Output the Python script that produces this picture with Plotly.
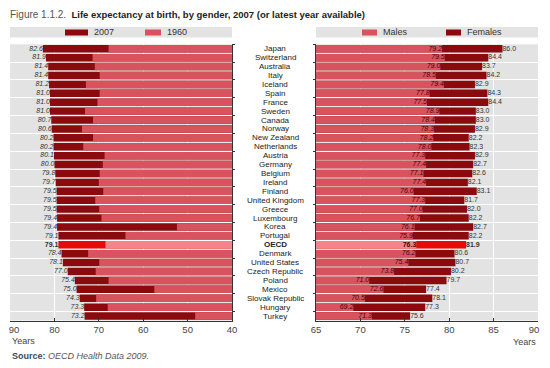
import plotly.graph_objects as go

countries = ["Japan", "Switzerland", "Australia", "Italy", "Iceland", "Spain", "France",
             "Sweden", "Canada", "Norway", "New Zealand", "Netherlands", "Austria", "Germany",
             "Belgium", "Ireland", "Finland", "United Kingdom", "Greece", "Luxembourg", "Korea",
             "Portugal", "OECD", "Denmark", "United States", "Czech Republic", "Poland",
             "Mexico", "Slovak Republic", "Hungary", "Turkey"]
life_2007 = [82.6, 81.9, 81.4, 81.4, 81.2, 81.0, 81.0, 81.0, 80.7, 80.6, 80.2, 80.2, 80.1,
             80.0, 79.8, 79.7, 79.5, 79.5, 79.5, 79.4, 79.4, 79.1, 79.1, 78.4, 78.1, 77.0,
             75.4, 75.0, 74.3, 73.3, 73.2]
life_1960 = [67.8, 71.4, 70.9, 69.8, 72.9, 69.8, 70.3, 73.1, 71.3, 73.8, 71.3, 73.5, 68.7,
             69.1, 69.8, 70.0, 69.0, 70.8, 69.9, 69.4, 52.4, 64.0, 68.5, 72.4, 69.9, 70.7,
             67.8, 57.5, 70.6, 68.0, 48.3]
males = [79.2, 79.5, 79.0, 78.5, 79.4, 77.8, 77.5, 78.9, 78.4, 78.3, 78.2, 78.0, 77.3, 77.4,
         77.1, 77.4, 76.0, 77.3, 77.0, 76.7, 76.1, 75.9, 76.3, 76.2, 75.4, 73.8, 71.0, 72.6,
         70.5, 69.2, 71.3]
females = [86.0, 84.4, 83.7, 84.2, 82.9, 84.3, 84.4, 83.0, 83.0, 82.9, 82.2, 82.3, 82.9, 82.7,
           82.6, 82.1, 83.1, 81.7, 82.0, 82.2, 82.7, 82.2, 81.9, 80.6, 80.7, 80.2, 79.7, 77.4,
           78.1, 77.3, 75.6]
left_ticks = [90, 80, 70, 60, 50, 40]
left_tick_text = ["90", "80&nbsp;&nbsp;&nbsp;", "70&nbsp;&nbsp;&nbsp;", "60&nbsp;&nbsp;&nbsp;",
                  "50&nbsp;&nbsp;&nbsp;", "40&nbsp;&nbsp;&nbsp;"]
right_ticks = [65, 70, 75, 80, 85, 90]
right_tick_text = ["65", "70", "75", "80", "85", "90&nbsp;&nbsp;&nbsp;"]
highlight = "OECD"

DARK = "#8a0a0e"
LIGHT = "#d9535e"
DARK_HL = "#e60a0a"
LIGHT_HL = "#f2858b"
GRAY = "#e3e3e3"
FONT = "Liberation Sans Narrow, Liberation Sans, Arial, sans-serif"
FONT_R = "Liberation Sans, Arial, sans-serif"

dark_cols = [DARK_HL if c == highlight else DARK for c in countries]
light_cols = [LIGHT_HL if c == highlight else LIGHT for c in countries]


def fmt(v, c, italic=True):
    s = f"{v:.1f}"
    if c == highlight:
        s = f"<b>{s}</b>"
    elif italic:
        s = f"<i>{s}</i>"
    return s


fig = go.Figure()
# Left panel
fig.add_trace(go.Bar(y=countries, x=life_2007, orientation="h", marker=dict(color=dark_cols, line_width=0),
                     xaxis="x", yaxis="y", name="2007"))
fig.add_trace(go.Bar(y=countries, x=life_1960, orientation="h", marker=dict(color=light_cols, line_width=0),
                     xaxis="x", yaxis="y", name="1960"))
# Right panel
fig.add_trace(go.Bar(y=countries, x=females, orientation="h", marker=dict(color=dark_cols, line_width=0),
                     xaxis="x2", yaxis="y2", name="Females"))
fig.add_trace(go.Bar(y=countries, x=males, orientation="h", marker=dict(color=light_cols, line_width=0),
                     xaxis="x2", yaxis="y2", name="Males"))

# Labels
fig.add_trace(go.Scatter(y=countries, x=life_2007, mode="text", xaxis="x", yaxis="y",
                         text=[fmt(v, c) for v, c in zip(life_2007, countries)],
                         textposition="middle left", cliponaxis=False,
                         textfont=dict(family=FONT, size=7, color="#333333")))
fig.add_trace(go.Scatter(y=countries, x=males, mode="text", xaxis="x2", yaxis="y2",
                         text=[fmt(v, c) for v, c in zip(males, countries)],
                         textposition="middle left", cliponaxis=False,
                         textfont=dict(family=FONT, size=7, color="#4a0005")))
fig.add_trace(go.Scatter(y=countries, x=females, mode="text", xaxis="x2", yaxis="y2",
                         text=[fmt(v, c, italic=False) for v, c in zip(females, countries)],
                         textposition="middle right", cliponaxis=False,
                         textfont=dict(family=FONT, size=7, color="#333333")))

# The page body has an 8px margin: the figure is sized and laid out so that
# window pixel coordinates match the reference.
OFF = 8
W, H = 550 - OFF, 368 - OFF
def px(x):
    return (x - OFF) / W
def py(y):
    return 1 - (y - OFF) / H

ydom = [py(320.5), py(44.3)]
axis_common = dict(showline=True, linecolor="#333333", linewidth=1, zeroline=False,
                   showgrid=True, gridcolor="white", gridwidth=1.3,
                   ticks="inside", ticklen=3, tickcolor="#333333", automargin=False,
                   ticklabeloverflow="allow",
                   tickfont=dict(family=FONT_R, size=9.5, color="#444444"))
ycommon = dict(domain=ydom, type="category", range=[len(countries) - 0.5, -0.5],
               showline=True, linecolor="#333333", ticks="outside", ticklen=2, tickcolor="#333333",
               tickson="boundaries", showticklabels=False, showgrid=True, gridcolor="white",
               gridwidth=1.3, zeroline=False, automargin=False)
fig.update_layout(
    width=W, height=H, margin=dict(l=0, r=0, t=0, b=0, pad=0), autosize=False,
    paper_bgcolor="white", plot_bgcolor=GRAY,
    barmode="overlay", bargap=0.16, showlegend=False,
    xaxis=dict(domain=[px(10), px(232)], range=[90, 40], tickvals=left_ticks, ticktext=left_tick_text,
               ticklabelshift=-4, anchor="y", **axis_common),
    xaxis2=dict(domain=[px(316), px(538)], range=[65, 90], tickvals=right_ticks, ticktext=right_tick_text,
                anchor="y2", **axis_common),
    yaxis=dict(anchor="x", side="right", **ycommon),
    yaxis2=dict(anchor="x2", side="left", **ycommon),
    font=dict(family=FONT),
)

annotations = []
for c in countries:
    txt = f"<b>{c}</b>" if c == highlight else c
    annotations.append(dict(x=px(275), xref="paper", y=c, yref="y", text=txt, showarrow=False,
                            xanchor="center", yanchor="middle",
                            font=dict(family=FONT, size=8, color="#222222")))

# Title
annotations.append(dict(x=px(8), y=py(14), xref="paper", yref="paper", xanchor="left", yanchor="middle",
                        showarrow=False,
                        text="<span style='color:#555555;font-size:10px'>Figure 1.1.2.</span>  <b>Life expectancy at birth, by gender, 2007 (or latest year available)</b>",
                        font=dict(family=FONT_R, size=9.5, color="#222222")))
# Axis titles
annotations.append(dict(x=px(10), y=py(341), xref="paper", yref="paper", xanchor="left", yanchor="middle",
                        showarrow=False, text="Years", font=dict(family=FONT_R, size=9, color="#444444")))
annotations.append(dict(x=px(538), y=py(342), xref="paper", yref="paper", xanchor="right", yanchor="middle",
                        showarrow=False, text="Years", font=dict(family=FONT_R, size=9, color="#444444")))
# Source
annotations.append(dict(x=px(10), y=py(356), xref="paper", yref="paper", xanchor="left", yanchor="middle",
                        showarrow=False,
                        text="<b><span style='color:#3b4a5e'>Source:</span></b> <i>OECD Health Data 2009.</i>",
                        font=dict(family=FONT_R, size=9, color="#555555")))

shapes = []
# Legend boxes
for x0, x1 in [(10, 232), (316, 538)]:
    shapes.append(dict(type="rect", xref="paper", yref="paper", x0=px(x0), x1=px(x1), y0=py(37.5), y1=py(27),
                       fillcolor=GRAY, line_width=0, layer="below"))
legend_items = [(65, 88, DARK, "2007"), (145, 161, LIGHT, "1960"),
                (362, 377, LIGHT, "Males"), (446, 461, DARK, "Females")]
for sx0, sx1, col, lab in legend_items:
    shapes.append(dict(type="rect", xref="paper", yref="paper", x0=px(sx0), x1=px(sx1), y0=py(35.5), y1=py(29.5),
                       fillcolor=col, line_width=0))
    annotations.append(dict(x=px(sx1 + 4), y=py(32.5), xref="paper", yref="paper", xanchor="left",
                            yanchor="middle", showarrow=False, text=lab,
                            font=dict(family=FONT, size=9, color="#333333")))

fig.update_layout(annotations=annotations, shapes=shapes)
fig.write_html("out.html")
